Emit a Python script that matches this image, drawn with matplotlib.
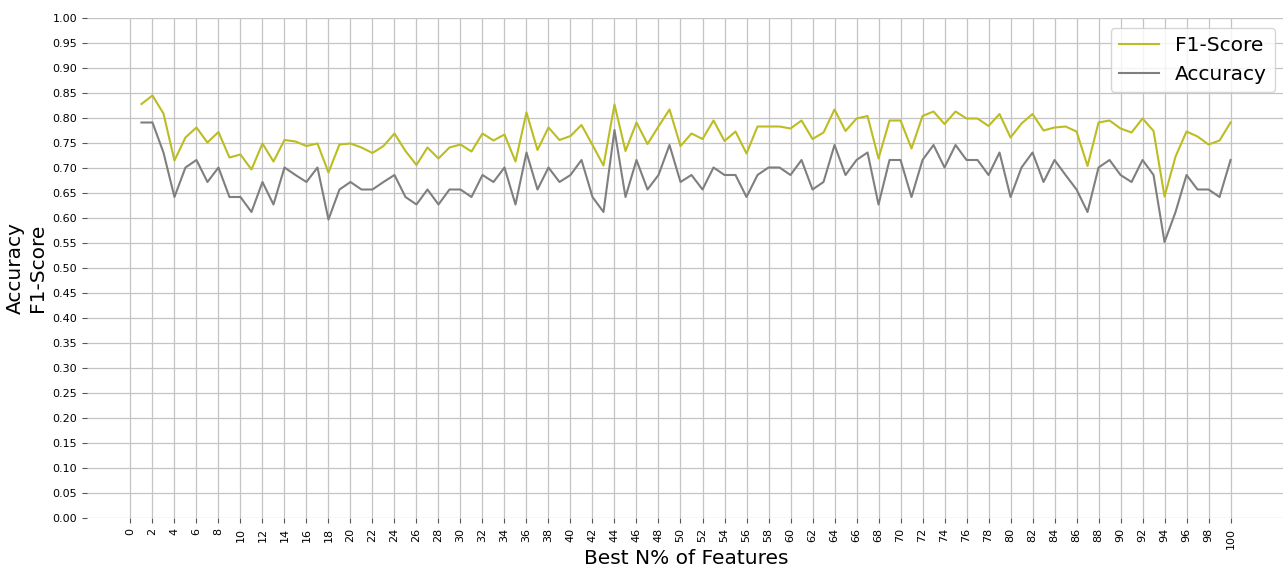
import numpy as np
from matplotlib import pyplot as plt

# percentage of best features kept
n_features = list(range(1, 101))

f1_score = [
    0.828, 0.845, 0.809, 0.715, 0.761, 0.781, 0.751, 0.772, 0.721, 0.727,
    0.697, 0.749, 0.713, 0.756, 0.753, 0.744, 0.749, 0.691, 0.747, 0.749,
    0.741, 0.730, 0.744, 0.769, 0.734, 0.706, 0.741, 0.719, 0.741, 0.747,
    0.733, 0.769, 0.755, 0.767, 0.713, 0.811, 0.736, 0.781, 0.756, 0.764,
    0.786, 0.746, 0.705, 0.827, 0.734, 0.791, 0.748, 0.783, 0.817, 0.744,
    0.769, 0.758, 0.795, 0.754, 0.773, 0.729, 0.783, 0.783, 0.783, 0.779,
    0.795, 0.758, 0.771, 0.817, 0.774, 0.799, 0.804, 0.719, 0.795, 0.795,
    0.739, 0.804, 0.813, 0.788, 0.813, 0.799, 0.799, 0.784, 0.808, 0.761,
    0.789, 0.808, 0.775, 0.781, 0.783, 0.773, 0.704, 0.791, 0.795, 0.779,
    0.771, 0.799, 0.774, 0.643, 0.723, 0.773, 0.763, 0.747, 0.755, 0.791,
]

accuracy = [
    0.791, 0.791, 0.731, 0.642, 0.701, 0.716, 0.672, 0.701, 0.642, 0.642,
    0.612, 0.672, 0.627, 0.701, 0.686, 0.672, 0.701, 0.597, 0.657, 0.672,
    0.657, 0.657, 0.672, 0.686, 0.642, 0.627, 0.657, 0.627, 0.657, 0.657,
    0.642, 0.686, 0.672, 0.701, 0.627, 0.731, 0.657, 0.701, 0.672, 0.686,
    0.716, 0.642, 0.612, 0.776, 0.642, 0.716, 0.657, 0.686, 0.746, 0.672,
    0.686, 0.657, 0.701, 0.686, 0.686, 0.642, 0.686, 0.701, 0.701, 0.686,
    0.716, 0.657, 0.672, 0.746, 0.686, 0.716, 0.731, 0.627, 0.716, 0.716,
    0.642, 0.716, 0.746, 0.701, 0.746, 0.716, 0.716, 0.686, 0.731, 0.642,
    0.701, 0.731, 0.672, 0.716, 0.686, 0.657, 0.612, 0.701, 0.716, 0.686,
    0.672, 0.716, 0.686, 0.552, 0.612, 0.686, 0.657, 0.657, 0.642, 0.716,
]

fig = plt.figure(figsize=(12.83, 5.66), dpi=100)
ax = fig.add_axes([87 / 1283, 48 / 566, 1198 / 1283, 500 / 566])

ax.plot(n_features, f1_score, color='#bcbd22', label='F1-Score', linewidth=1.5)
ax.plot(n_features, accuracy, color='#7f7f7f', label='Accuracy', linewidth=1.5)

ax.set_ylim(0, 1)
ax.set_yticks(np.arange(0, 1.001, 0.05))
ax.set_xticks(range(0, 101, 2))
ax.tick_params(axis='x', labelrotation=90, labelsize=8, color='#555555')
ax.tick_params(axis='y', labelsize=8, color='#555555')
ax.grid(True, color='#c4c4c4', linewidth=0.9)
ax.set_axisbelow(True)
for s in ax.spines.values():
    s.set_visible(False)

ax.set_xlabel('Best N% of Features', fontsize=14.5, labelpad=0)
ax.set_ylabel('Accuracy\nF1-Score', fontsize=14.5)
ax.legend(loc='upper right', fontsize=14.5)

fig.savefig('out.png', dpi=100)
